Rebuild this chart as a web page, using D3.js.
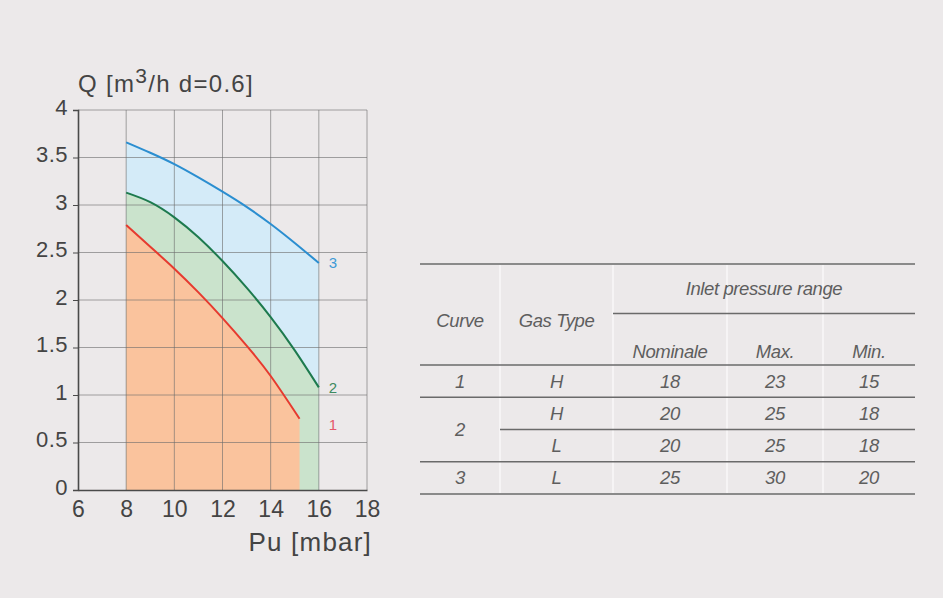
<!DOCTYPE html>
<html>
<head>
<meta charset="utf-8">
<script src="https://cdn.jsdelivr.net/npm/d3@7"></script>
<style>
    html, body { margin: 0; padding: 0; background: #ece9ea; }
    svg { display: block; }
</style>
</head>
<body>
<svg id="chart" width="943" height="598"></svg>
<script>
// Flow curves (Q in m3/h against outlet pressure Pu in mbar)
const pressure = [8, 9, 10, 11, 12, 13, 14, 15, 16];
const curve3 = [3.66, 3.55, 3.43, 3.29, 3.14, 2.98, 2.80, 2.60, 2.39];
const curve2 = [3.13, 3.03, 2.87, 2.66, 2.41, 2.13, 1.82, 1.47, 1.08];
const pressure1 = [8, 9, 10, 11, 12, 13, 14, 15.2];
const curve1 = [2.79, 2.56, 2.33, 2.08, 1.81, 1.52, 1.20, 0.75];

const xTicks = [6, 8, 10, 12, 14, 16, 18];
const yTicks = [0, 0.5, 1, 1.5, 2, 2.5, 3, 3.5, 4];

// Table
const tableHeaders = ['Curve', 'Gas Type', 'Nominale', 'Max.', 'Min.'];
const tableGroup = 'Inlet pressure range';
const tableCurve = ['1', '2', '2', '3'];
const tableGas = ['H', 'H', 'L', 'L'];
const tableNominal = [18, 20, 20, 25];
const tableMax = [23, 25, 25, 30];
const tableMin = [15, 18, 18, 20];

const svg = d3.select('#chart');

const x = d3.scaleLinear().domain([6, 18]).range([78, 367]);
const y = d3.scaleLinear().domain([0, 4]).range([490, 110]);

const series = [
    { name: '3', xs: pressure, ys: curve3, line: '#2b8ed0', fill: '#d4ebf8', label: '#3f9bd6' },
    { name: '2', xs: pressure, ys: curve2, line: '#1d7a4e', fill: '#cae3cc', label: '#3d8a60' },
    { name: '1', xs: pressure1, ys: curve1, line: '#e63a2f', fill: '#fac39d', label: '#e4586a' }
];

const area = d3.area()
    .x(d => x(d[0]))
    .y0(y(0))
    .y1(d => y(d[1]))
    .curve(d3.curveNatural);

const line = d3.line()
    .x(d => x(d[0]))
    .y(d => y(d[1]))
    .curve(d3.curveNatural);

// fills, largest first
svg.append('g').selectAll('path')
    .data(series)
    .join('path')
    .attr('d', s => area(d3.zip(s.xs, s.ys)))
    .attr('fill', s => s.fill);

// grid on top of fills
const grid = svg.append('g')
    .attr('stroke', '#6a6a6a')
    .attr('stroke-opacity', 0.6)
    .attr('stroke-width', 1);

grid.selectAll('line.h')
    .data(yTicks.slice(1))
    .join('line')
    .attr('class', 'h')
    .attr('x1', x(6)).attr('x2', x(18))
    .attr('y1', d => y(d)).attr('y2', d => y(d));

grid.selectAll('line.v')
    .data(xTicks.slice(1))
    .join('line')
    .attr('class', 'v')
    .attr('y1', y(0)).attr('y2', y(4))
    .attr('x1', d => x(d)).attr('x2', d => x(d));

// curves
svg.append('g').selectAll('path')
    .data(series)
    .join('path')
    .attr('d', s => line(d3.zip(s.xs, s.ys)))
    .attr('fill', 'none')
    .attr('stroke', s => s.line)
    .attr('stroke-width', 2);

// curve numbers
svg.append('g')
    .style('font-family', '"Liberation Sans", Arial, sans-serif')
    .style('font-size', '15px')
    .selectAll('text')
    .data(series)
    .join('text')
    .attr('x', x(16) + 14)
    .attr('y', s => y(s.ys[s.ys.length - 1]) + (s.name === '1' ? 6 : 0))
    .attr('dy', '0.35em')
    .attr('text-anchor', 'middle')
    .attr('fill', s => s.label)
    .text(s => s.name);

// axes
const yAxis = svg.append('g')
    .attr('transform', `translate(${x(6)},0)`)
    .call(d3.axisLeft(y).tickValues(yTicks).tickFormat(d3.format('')).tickSize(5).tickPadding(5));

const xAxis = svg.append('g')
    .attr('transform', `translate(0,${y(0)})`)
    .call(d3.axisBottom(x).tickValues(xTicks).tickSize(0).tickPadding(11));

[xAxis, yAxis].forEach(a => {
    a.select('.domain').attr('stroke', '#4a4a4a').attr('stroke-width', 1.6);
    a.selectAll('.tick line').attr('stroke', '#4a4a4a');
    a.selectAll('text')
        .attr('fill', '#444')
        .style('font-family', '"Liberation Sans", Arial, sans-serif');
});
yAxis.selectAll('text').style('font-size', '22px').style('letter-spacing', '0.5px').attr('dy', '0.2em');
xAxis.selectAll('text').style('font-size', '23px');

// titles
const title = svg.append('text')
    .attr('x', 78)
    .attr('y', 92)
    .attr('fill', '#444')
    .style('font-family', '"Liberation Sans", Arial, sans-serif')
    .style('font-size', '24px')
    .style('letter-spacing', '1.3px');
title.append('tspan').text('Q [m');
title.append('tspan').attr('dy', -9).style('font-size', '21px').text('3');
title.append('tspan').attr('dy', 9).text('/h d=0.6]');

svg.append('text')
    .attr('x', 372)
    .attr('y', 551)
    .attr('text-anchor', 'end')
    .attr('fill', '#444')
    .style('font-family', '"Liberation Sans", Arial, sans-serif')
    .style('font-size', '26px')
    .style('letter-spacing', '1.2px')
    .text('Pu [mbar]');

// ---- table ----
const colEdges = [420, 500, 613, 727, 823, 915];
const colMid = i => (colEdges[i] + colEdges[i + 1]) / 2;
const rows = d3.scaleBand().domain(d3.range(4)).range([365, 494]);

const table = svg.append('g')
    .style('font-family', '"Liberation Sans", Arial, sans-serif')
    .style('font-style', 'italic')
    .style('font-size', '18.5px')
    .style('letter-spacing', '-0.4px')
    .attr('fill', '#5e5e5e')
    .attr('text-anchor', 'middle');

// faint white column separators
table.append('g')
    .attr('stroke', '#ffffff')
    .attr('stroke-opacity', 0.5)
    .attr('stroke-width', 2)
    .selectAll('line')
    .data(colEdges.slice(1, -1))
    .join('line')
    .attr('x1', d => d).attr('x2', d => d)
    .attr('y1', 265).attr('y2', 493);

const rules = [
    [colEdges[0], 264],
    [colEdges[2], 313.5],
    [colEdges[0], 365],
    [colEdges[0], rows(1)],
    [colEdges[1], rows(2)],
    [colEdges[0], rows(3)],
    [colEdges[0], 494]
];
table.append('g')
    .attr('stroke', '#6a6a6a')
    .attr('stroke-width', 1.3)
    .selectAll('line')
    .data(rules)
    .join('line')
    .attr('x1', d => d[0]).attr('x2', colEdges[5])
    .attr('y1', d => d[1]).attr('y2', d => d[1]);

table.append('text')
    .attr('x', (colEdges[2] + colEdges[5]) / 2)
    .attr('y', 295)
    .text(tableGroup);

table.selectAll('text.head')
    .data(tableHeaders)
    .join('text')
    .attr('class', 'head')
    .attr('x', (d, i) => colMid(i))
    .attr('y', (d, i) => i < 2 ? 327 : 358)
    .text(d => d);

const rowMid = i => rows(i) + rows.bandwidth() / 2;

// curve column, merging repeated numbers
const curveGroups = d3.groups(d3.range(4), i => tableCurve[i]);
table.selectAll('text.curve')
    .data(curveGroups)
    .join('text')
    .attr('class', 'curve')
    .attr('x', colMid(0))
    .attr('y', g => d3.mean(g[1], rowMid))
    .attr('dy', '0.35em')
    .text(g => g[0]);

const cellCols = [tableGas, tableNominal, tableMax, tableMin];
cellCols.forEach((col, c) => {
    table.append('g').selectAll('text')
        .data(col)
        .join('text')
        .attr('x', colMid(c + 1))
        .attr('y', (d, i) => rowMid(i))
        .attr('dy', '0.35em')
        .text(d => d);
});
</script>
</body>
</html>
